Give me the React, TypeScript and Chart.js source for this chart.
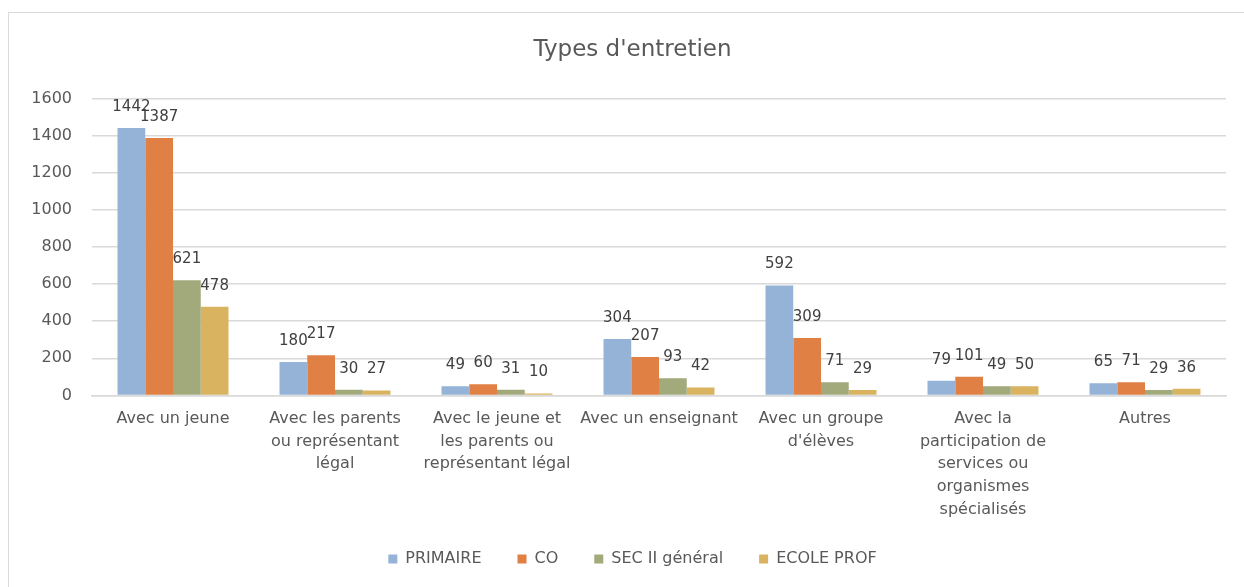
import React, { useEffect, useRef } from "react";
import { Chart, registerables } from "chart.js";

Chart.register(...registerables);

const categories: (string | string[])[] = [
  "Avec un jeune",
  ["Avec les parents", "ou représentant", "légal"],
  ["Avec le jeune et", "les parents ou", "représentant légal"],
  "Avec un enseignant",
  ["Avec un groupe", "d'élèves"],
  ["Avec la", "participation de", "services ou", "organismes", "spécialisés"],
  "Autres",
];

const primaire = [1442, 180, 49, 304, 592, 79, 65];
const co = [1387, 217, 60, 207, 309, 101, 71];
const sec2 = [621, 30, 31, 93, 71, 49, 29];
const ecoleProf = [478, 27, 10, 42, 29, 50, 36];

const seriesNames = ["PRIMAIRE", "CO", "SEC II général", "ECOLE PROF"];
const seriesColors = ["#95B3D6", "#E08045", "#A2AA7C", "#D9B35F"];

const FONT = "'DejaVu Sans', sans-serif";

const valueLabels = {
  id: "valueLabels",
  afterDatasetsDraw(chart: any) {
    const ctx = chart.ctx;
    ctx.save();
    ctx.font = `15px ${FONT}`;
    ctx.fillStyle = "#404040";
    ctx.textAlign = "center";
    ctx.textBaseline = "middle";
    chart.data.datasets.forEach((ds: any, i: number) => {
      const meta = chart.getDatasetMeta(i);
      meta.data.forEach((el: any, j: number) => {
        ctx.fillText(String(ds.data[j]), el.x, el.y - 21);
      });
    });
    ctx.restore();
  },
};

const shiftBlocks = {
  id: "shiftBlocks",
  afterLayout(chart: any) {
    const dx = 15;
    const dy = -10;
    if (chart.legend) {
      chart.legend.left += dx;
      chart.legend.right += dx;
      chart.legend.top += dy;
      chart.legend.bottom += dy;
    }
    if (chart.titleBlock) {
      chart.titleBlock.left += dx;
      chart.titleBlock.right += dx;
    }
  },
};

export default function App() {
  const ref = useRef<HTMLCanvasElement>(null);
  useEffect(() => {
    if (!ref.current) return;
    const data = [primaire, co, sec2, ecoleProf];
    const chart = new Chart(ref.current, {
      type: "bar",
      data: {
        labels: categories,
        datasets: data.map((d, i) => ({
          label: seriesNames[i],
          data: d,
          backgroundColor: seriesColors[i],
          categoryPercentage: 0.685,
          barPercentage: 1,
        })),
      },
      options: {
        animation: false,
        responsive: false,
        maintainAspectRatio: false,
        layout: { padding: { left: 0, right: 19, top: 0, bottom: 1 } },
        plugins: {
          title: {
            display: true,
            text: "Types d'entretien",
            color: "#595959",
            font: { family: FONT, size: 23, weight: "normal" },
            padding: { top: 23, bottom: 35 },
          },
          legend: {
            position: "bottom",
            labels: {
              color: "#595959",
              font: { family: FONT, size: 16 },
              boxWidth: 9,
              boxHeight: 9,
              padding: 36,
            },
          },
          tooltip: { enabled: false },
        },
        scales: {
          x: {
            grid: { display: false },
            border: { display: true, color: "#d9d9d9", width: 1.5 },
            ticks: {
              color: "#595959",
              font: { family: FONT, size: 16, lineHeight: 1.42 },
              padding: 4,
              maxRotation: 0,
              autoSkip: false,
            },
          },
          y: {
            min: 0,
            max: 1600,
            afterFit(scale: any) {
              scale.width = 83;
            },
            grid: { color: "#d9d9d9", lineWidth: 1.5, drawTicks: false },
            border: { display: false },
            ticks: {
              stepSize: 200,
              color: "#595959",
              font: { family: FONT, size: 16 },
              padding: 20,
              callback: (v: any) => String(v),
            },
          },
        },
      },
      plugins: [valueLabels, shiftBlocks],
    });
    return () => chart.destroy();
  }, []);
  return (
    <div
      style={{
        position: "fixed",
        left: 8,
        top: 12,
        width: 1240,
        height: 580,
        border: "1px solid #d9d9d9",
        background: "#fff",
      }}
    >
      <canvas ref={ref} width={1236} height={575} style={{ display: "block" }} />
    </div>
  );
}
